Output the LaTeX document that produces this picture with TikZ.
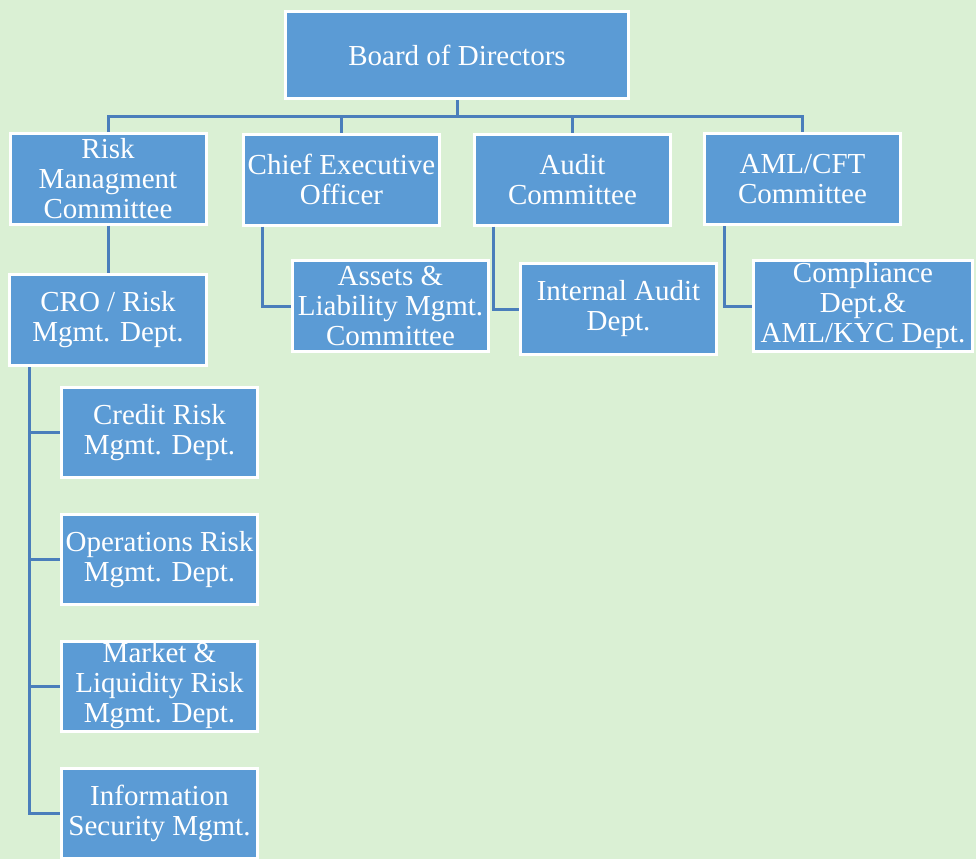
\documentclass[tikz,border=0pt]{standalone}
\usepackage{fontspec}
\setmainfont{Liberation Serif}
\definecolor{bg}{HTML}{DAF0D4}
\definecolor{boxblue}{HTML}{5B9BD5}
\definecolor{lineblue}{HTML}{4A7EBB}
\tikzstyle{orgbox} = [fill=boxblue, draw=white, line width=3pt, text=white, align=center, inner sep=1pt, font=\fontsize{29}{30}\selectfont]
\tikzstyle{unit}   = [orgbox, minimum width=196pt, minimum height=91pt]
\tikzstyle{link}   = [draw=lineblue, line width=3pt]

\begin{document}
\begin{tikzpicture}[x=1pt,y=-1pt]
    \fill[bg] (0,0) rectangle (976,859);
    \useasboundingbox (0,0) rectangle (976,859);
    % top level
    \node[orgbox, minimum width=343pt, minimum height=87pt] (board) at (457,55) {Board of Directors};
    \node[unit] (risk)  at (108,178.5)   {Risk\\Managment\\Committee};
    \node[unit] (ceo)   at (341.5,179.5) {Chief Executive\\Officer};
    \node[unit] (audit) at (572.5,179.5) {Audit\\Committee};
    \node[unit] (aml)   at (802.5,179)   {AML/CFT\\Committee};
    % second level
    \node[unit, minimum width=197pt] (cro) at (108,320) {CRO / Risk\\Mgmt. Dept.};
    \node[unit] (alm)  at (390.5,306) {Assets \&\\Liability Mgmt.\\Committee};
    \node[unit] (ia)   at (618.5,309) {Internal Audit\\Dept.};
    \node[unit, minimum width=219pt] (comp) at (863,306) {Compliance\\Dept.\&\\AML/KYC Dept.};
    % risk departments
    \node[unit, minimum height=90pt] (credit) at (159.5,432.5) {Credit Risk\\Mgmt. Dept.};
    \node[unit, minimum height=90pt] (ops)    at (159.5,559.5) {Operations Risk\\Mgmt. Dept.};
    \node[unit, minimum height=90pt] (market) at (159.5,686)   {Market \&\\Liquidity Risk\\Mgmt. Dept.};
    \node[unit, minimum height=90pt] (info)   at (159.5,813.5) {Information\\Security Mgmt.};
    % connectors
    \foreach \n in {risk,ceo,audit,aml}
      \draw[link] (board.south) -- ++(0,16) -| (\n.north);
    \draw[link] (risk) -- (cro);
    \draw[link] ([xshift=20pt]ceo.south west) |- (alm.west);
    \draw[link] ([xshift=20pt]audit.south west) |- (ia.west);
    \draw[link] ([xshift=21pt]aml.south west) |- (comp.west);
    \foreach \d in {credit,ops,market,info}
      \draw[link] ([xshift=21pt]cro.south west) |- (\d.west);
\end{tikzpicture}
\end{document}
